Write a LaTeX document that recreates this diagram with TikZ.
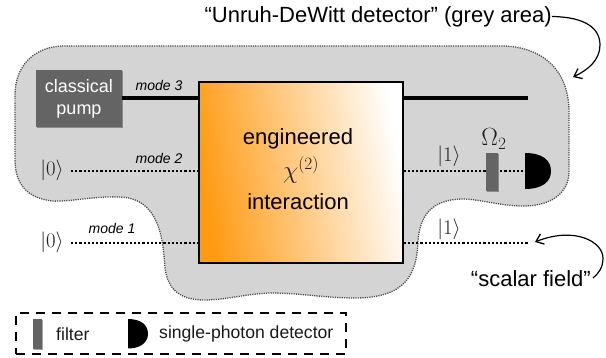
\documentclass[tikz,border=0pt]{standalone}
\usepackage{fontspec}
\setmainfont{Liberation Sans}
\usetikzlibrary{arrows.meta,shadows}
\definecolor{blobgrey}{HTML}{D4D4D4}
\definecolor{partgrey}{HTML}{646464}
\definecolor{boxorange}{HTML}{FF9A12}
\tikzset{
  x=1pt,y=-1pt,
  solidline/.style={line width=3.4pt,black},
  dotline/.style={line width=2.5pt,black,dash pattern=on 2.2pt off 2pt},
  modelabel/.style={font=\fontsize{14}{15}\selectfont\itshape,inner sep=0pt},
  statelabel/.style={font=\fontsize{20}{21}\selectfont,inner sep=0pt,text=black!88},
  maintext/.style={font=\fontsize{22}{23}\selectfont,inner sep=0pt,text=black},
  legendtext/.style={font=\fontsize{17.6}{19}\selectfont,inner sep=0pt,text=black!90},
  softshadow/.style={drop shadow={shadow xshift=0.6pt,shadow yshift=-1pt,opacity=.35,fill=black}},
  curvearrow/.style={line width=1.2pt,black,-{Straight Barb[length=7pt,width=11pt,line width=1.3pt]}},
}
\begin{document}
\begin{tikzpicture}
\useasboundingbox (0,0) rectangle (606,358);
% grey area
\draw[fill=blobgrey,draw=black!70,line width=1.3pt,dash pattern=on 1.2pt off 1.1pt]
  (62,46) -- (505,46)
  .. controls (545,48) and (569,72) .. (569,112)
  -- (569,172)
  .. controls (569,192) and (552,207) .. (520,206)
  .. controls (495,205) and (480,199) .. (461,199)
  .. controls (432,200) and (420,215) .. (418,241)
  .. controls (417,275) and (405,298) .. (355,298)
  .. controls (325,298) and (300,293) .. (270,293)
  .. controls (245,294) and (225,300) .. (205,300)
  .. controls (180,300) and (168,290) .. (165,268)
  .. controls (163,240) and (160,197) .. (118,197)
  .. controls (95,196) and (70,202) .. (52,201)
  .. controls (28,198) and (15,185) .. (15,160)
  -- (15,95)
  .. controls (15,65) and (35,47) .. (62,46) -- cycle;
% pump
\node[fill=partgrey,minimum width=86pt,minimum height=57pt,inner sep=0pt,softshadow,
      align=center,text=white,font=\fontsize{18}{22}\selectfont] (pump) at (79,98.5) {classical\\pump};
% interaction box
\node[draw=black,line width=1.3pt,minimum width=204pt,minimum height=181pt,inner sep=0pt,
      shade,shading=axis,left color=boxorange,right color=white,shading angle=100,softshadow] (box) at (301,172.5) {};
\node[maintext] (t1) at (298,139) {engineered};
\node[statelabel,font=\fontsize{23}{24}\selectfont] (t2) at (301,170) {$\chi^{(2)}$};
\node[maintext] (t3) at (298,202) {interaction};
% coordinates for line ends
\coordinate (m3out) at (528,98);
\node[statelabel] (k2) at (52,170) {$|0\rangle$};
\node[statelabel] (k1) at (52,242) {$|0\rangle$};
\coordinate (m2in) at (71,171);
\coordinate (m1in) at (71,243);
\coordinate (m1out) at (528,243);
% lines
\draw[solidline] (pump.east |- m3out) -- (box.west |- m3out);
\draw[solidline] (box.east |- m3out) -- (m3out);
\draw[dotline] (m2in) -- (box.west |- m2in);
\draw[dotline] (m1in) -- (box.west |- m1in);
\draw[dotline] (box.east |- m1in) -- (m1out);
% filter and detector
\coordinate (det) at (525,171);
\draw[dotline] (box.east |- m2in) -- (det);
\node[fill=partgrey,minimum width=12pt,minimum height=38pt,inner sep=0pt,softshadow] (filt) at (492,172) {};
\fill[black] (525,153) .. controls (542,153) and (551,160) .. (551,171)
   .. controls (551,182) and (542,189) .. (525,189) -- cycle;
% labels
\node[modelabel] (l3) at (159,86) {mode 3};
\node[modelabel] (l2) at (159,159) {mode 2};
\node[modelabel] (l1) at (112,229) {mode 1};
\node[statelabel] (o2) at (449,156.5) {$|1\rangle$};
\node[statelabel] (o1) at (449,229) {$|1\rangle$};
\node[statelabel,font=\fontsize{24}{25}\selectfont] (om) at (494,139) {$\Omega_2$};
% annotations
\node[maintext,anchor=east] (title) at (552,16.5) {“Unruh-DeWitt detector” (grey area)};
\node[maintext,anchor=east] (sf) at (591,279) {“scalar field”};
\coordinate (blobpt) at (573,77);
\coordinate (fieldpt) at (535,242);
\draw[curvearrow] (title.east) .. controls (585,17) and (600,28) .. (600,45) .. controls (600,60) and (588,70) .. (blobpt);
\draw[curvearrow] (sf.east) ++(2,-1) .. controls (598,274) and (603,268) .. (603,258) .. controls (603,242) and (575,226) .. (fieldpt);
% legend
\node[draw=black,line width=1.2pt,dash pattern=on 9pt off 7pt,minimum width=330pt,minimum height=41pt,inner sep=0pt] (legend) at (181,333.5) {};
\node[fill=partgrey,minimum width=9pt,minimum height=30pt,inner sep=0pt,softshadow] (lf) at (37.5,334) {};
\node[legendtext,anchor=west] (lft) at (56,334) {filter};
\fill[black] (128,319) .. controls (141,319) and (148,325) .. (148,334)
   .. controls (148,342) and (141,348.5) .. (128,348.5) -- cycle;
\node[legendtext,anchor=west] (ldt) at (159,334) {single-photon detector};
\end{tikzpicture}
\end{document}
